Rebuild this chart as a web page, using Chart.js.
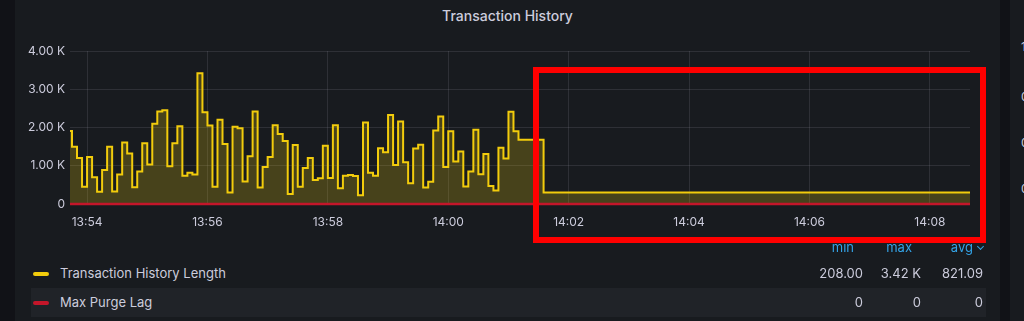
<!DOCTYPE html>
<html lang="en">
<head>
<meta charset="UTF-8">
<title>Transaction History</title>
<script src="https://cdn.jsdelivr.net/npm/chart.js@4.4.0/dist/chart.umd.min.js"></script>
<style>
  body { margin: 0; width: 1024px; height: 321px; overflow: hidden; background: #111217; position: relative;
         font-family: Inter, Roboto, sans-serif; color: #ccccdc; }
  #panel { position: absolute; left: 15px; top: 0; width: 985px; height: 321px; background: #181b1f; }
  #side { position: absolute; left: 1010px; top: 0; width: 14px; height: 321px; background: #181b1f; overflow: hidden; }
  #side span { position: absolute; left: 11px; font-size: 12px; line-height: 14px; }
  #title { position: absolute; left: 15px; width: 985px; top: 6px; line-height: 20px; text-align: center;
           font-size: 14px; font-weight: 500; }
  #chart { position: absolute; left: 0; top: 0; }
  .row { position: absolute; left: 31px; width: 955px; height: 29px; }
  .row.alt { background: #202328; }
  .swatch { position: absolute; left: 2px; top: 13px; width: 16px; height: 4px; border-radius: 2px; }
  .name { position: absolute; left: 29px; top: 0; line-height: 29px; font-size: 13px; }
  .val { position: absolute; top: 0; line-height: 29px; font-size: 13px; text-align: right; }
  .head { position: absolute; top: 238px; line-height: 18px; font-size: 13px; color: #33a2e5; text-align: right; }
  .chev { display: inline-block; width: 4px; height: 4px; border-right: 1.5px solid #33a2e5; border-bottom: 1.5px solid #33a2e5;
          transform: rotate(45deg); margin-left: 5px; position: relative; top: -3px; }
  #mark { position: absolute; left: 533px; top: 67px; width: 453px; height: 176px; box-sizing: border-box;
          border: 6px solid #ff0000; }
</style>
</head>
<body>
<div id="panel"></div>
<div id="side"><span style="top:40px">1</span><span style="top:90px">0</span><span style="top:136px">0</span><span style="top:182px">0</span></div>
<div id="title">Transaction History</div>
<canvas id="chart" width="1024" height="240"></canvas>
<div id="legend"></div>
<div id="mark"></div>

<script>
// samples every 5 s starting 13:53:40
const sampleStart = '13:53:40'
const sampleStep = 5
const historyLength = [
  1910, 1500, 1200, 450, 1230, 700, 320, 890, 1500, 330,
  770, 1610, 1320, 440, 850, 1590, 1030, 2100, 2420, 2450,
  990, 1590, 2030, 740, 820, 770, 3420, 2400, 2050, 450,
  2200, 1570, 300, 2020, 1980, 590, 1250, 2420, 430, 970,
  1230, 2060, 1830, 1650, 260, 1540, 450, 940, 1200, 630,
  670, 1520, 680, 2060, 410, 740, 760, 730, 230, 2130,
  820, 740, 1460, 1350, 2330, 1020, 2160, 1090, 540, 1450,
  1550, 430, 580, 1920, 2290, 970, 1900, 1110, 1370, 460,
  850, 1940, 780, 1310, 470, 350, 1470, 1190, 2410, 1900,
  1680, 1680, 1680, 1680, 1680, 300
]
const lastSampleTime = '14:08:40'

const purgeLagTimes = ['13:53:40', '14:08:40']
const purgeLagValues = [0, 0]

const xMin = '13:53:43'
const xMax = '14:08:40'
const xTickLabels = ['13:54', '13:56', '13:58', '14:00', '14:02', '14:04', '14:06', '14:08']
const yTickValues = [0, 1000, 2000, 3000, 4000]
const yTickLabels = ['0', '1.00 K', '2.00 K', '3.00 K', '4.00 K']

const seriesNames = ['Transaction History Length', 'Max Purge Lag']
const seriesColors = ['#f2cc0c', '#c4162a']
const legendMin = ['208.00', '0']
const legendMax = ['3.42 K', '0']
const legendAvg = ['821.09', '0']

const textColor = '#ccccdc'
const gridColor = 'rgba(204, 204, 220, 0.12)'

function toSec(t) {
  const p = t.split(':').map(Number)
  return p[0] * 3600 + p[1] * 60 + (p[2] || 0)
}
function fmtTime(v) {
  const h = Math.floor(v / 3600)
  const m = Math.floor((v % 3600) / 60)
  return h + ':' + String(m).padStart(2, '0')
}

const lengthPoints = historyLength.map((v, i) => ({ x: toSec(sampleStart) + i * sampleStep, y: v }))
lengthPoints.push({ x: toSec(lastSampleTime), y: historyLength[historyLength.length - 1] })
const purgePoints = purgeLagTimes.map((t, i) => ({ x: toSec(t), y: purgeLagValues[i] }))

const ctx = document.getElementById('chart').getContext('2d')
new Chart(ctx, {
  type: 'line',
  data: {
    datasets: [
      {
        label: seriesNames[0],
        data: lengthPoints,
        stepped: true,
        borderColor: seriesColors[0],
        backgroundColor: 'rgba(242, 204, 12, 0.22)',
        borderWidth: 2,
        fill: 'origin',
        pointRadius: 0,
        clip: { left: 0, right: 0, top: 2, bottom: 2 },
        order: 2
      },
      {
        label: seriesNames[1],
        data: purgePoints,
        borderColor: seriesColors[1],
        borderWidth: 2.5,
        fill: false,
        pointRadius: 0,
        clip: { left: 0, right: 0, top: 2, bottom: 3 },
        order: 1
      }
    ]
  },
  options: {
    responsive: false,
    animation: false,
    devicePixelRatio: 1,
    layout: { padding: { left: 15, right: 54, top: 51, bottom: 6 } },
    plugins: { legend: { display: false }, tooltip: { enabled: false } },
    scales: {
      x: {
        type: 'linear',
        min: toSec(xMin),
        max: toSec(xMax),
        afterBuildTicks: s => { s.ticks = xTickLabels.map(l => ({ value: toSec(l) })) },
        afterFit: s => { s.height = 30 },
        ticks: {
          callback: v => fmtTime(v),
          color: textColor,
          font: { family: 'Inter', size: 12 },
          padding: 11,
          maxRotation: 0,
          autoSkip: false
        },
        grid: { color: gridColor, drawTicks: false },
        border: { display: false }
      },
      y: {
        min: 0,
        max: 4000,
        afterBuildTicks: s => { s.ticks = yTickValues.map(v => ({ value: v })) },
        afterFit: s => { s.width = 55 },
        ticks: {
          callback: (v, i) => yTickLabels[i],
          color: textColor,
          font: { family: 'Inter', size: 12 },
          padding: 5
        },
        grid: { color: gridColor, drawTicks: false },
        border: { display: false }
      }
    }
  }
})

// table legend
const legend = document.getElementById('legend')
const valRights = [863, 921, 983]
const headRights = [854, 912, 968]
let html = ''
html += '<div class="head" style="right:' + (1024 - headRights[0]) + 'px">min</div>'
html += '<div class="head" style="right:' + (1024 - headRights[1]) + 'px">max</div>'
html += '<div class="head" style="right:' + (1024 - 983) + 'px">avg<span class="chev"></span></div>'
seriesNames.forEach((name, i) => {
  const top = 259 + i * 29
  html += '<div class="row' + (i === 1 ? ' alt' : '') + '" style="top:' + top + 'px">'
  html += '<div class="swatch" style="background:' + seriesColors[i] + '"></div>'
  html += '<div class="name">' + name + '</div>'
  const vals = [legendMin[i], legendMax[i], legendAvg[i]]
  vals.forEach((v, j) => {
    html += '<div class="val" style="right:' + (986 - valRights[j]) + 'px">' + v + '</div>'
  })
  html += '</div>'
})
legend.innerHTML = html
</script>
</body>
</html>
